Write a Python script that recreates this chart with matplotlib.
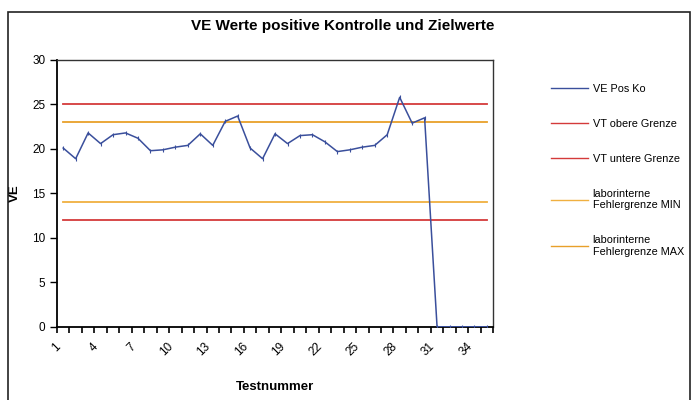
import numpy as np
import matplotlib
matplotlib.use("Agg")
import matplotlib.pyplot as plt
from matplotlib.patches import Rectangle

plt.rcParams["font.family"] = ["Liberation Sans", "DejaVu Sans"]

# data
testnummer = list(range(1, 36))
ve_pos_ko = [20.1, 18.9, 21.8, 20.6, 21.6, 21.8, 21.2, 19.8, 19.9, 20.2,
             20.4, 21.7, 20.4, 23.1, 23.7, 20.1, 18.9, 21.7, 20.6, 21.5,
             21.6, 20.8, 19.7, 19.9, 20.2, 20.4, 21.6, 25.8, 22.9, 23.5,
             0.0, 0.0, 0.0, 0.0, 0.0]
vt_obere = [25] * 35
vt_untere = [12] * 35
labor_min = [14] * 35
labor_max = [23] * 35
xtick_labels = [str(i) for i in range(1, 36, 3)]

blue = "#3a4f9c"
red = "#d43a3a"
orange = "#e8a02a"
orange2 = "#f0b040"

fig = plt.figure(figsize=(6.99, 4.0), dpi=100)
ax = fig.add_axes([0.0815, 0.183, 0.624, 0.667])

ax.plot(testnummer, ve_pos_ko, color=blue, lw=1.1, marker="|", ms=3, mew=0.8,
        label="VE Pos Ko", zorder=5)
ax.plot(testnummer, vt_obere, color=red, lw=1.3, label="VT obere Grenze")
ax.plot(testnummer, vt_untere, color=red, lw=1.3, label="VT untere Grenze")
ax.plot(testnummer, labor_min, color=orange2, lw=1.3,
        label="laborinterne\nFehlergrenze MIN")
ax.plot(testnummer, labor_max, color=orange, lw=1.3,
        label="laborinterne\nFehlergrenze MAX")

ax.set_xlim(0.5, 35.5)
ax.set_ylim(0, 30)
ax.set_yticks(range(0, 31, 5))
ax.set_xticks(range(1, 36, 3))
ax.set_xticklabels(xtick_labels, rotation=45, ha="right", va="top", fontsize=8.5)
ax.set_xticks(np.arange(0.5, 36, 1), minor=True)
ax.tick_params(axis="x", which="major", length=0, pad=10)
ax.tick_params(axis="x", which="minor", length=4, width=1.2, direction="out")
ax.tick_params(axis="y", length=5, width=1, direction="out", labelsize=8.5)

for s in ["left", "bottom"]:
    ax.spines[s].set_linewidth(1.3)
for s in ["top", "right"]:
    ax.spines[s].set_linewidth(1.0)
    ax.spines[s].set_color("#333333")

ax.set_xlabel("Testnummer", fontsize=9.5, fontweight="bold", labelpad=16)
ax.set_ylabel("VE", fontsize=9.5, fontweight="bold", labelpad=8)
fig.text(0.49, 0.935, "VE Werte positive Kontrolle und Zielwerte",
         ha="center", va="center", fontsize=11, fontweight="bold")

leg = fig.legend(loc="upper left", bbox_to_anchor=(0.775, 0.815), frameon=False,
                 fontsize=7.8, handlelength=3.4, labelspacing=2.3,
                 handletextpad=0.4)
for line in leg.get_lines():
    line.set_linewidth(1.0)
    line.set_marker("")

fig.patches.append(Rectangle((0.012, -0.01), 0.975, 0.98, transform=fig.transFigure,
                             fill=False, edgecolor="#222222", lw=1.2))

fig.savefig("out.png", dpi=100)
